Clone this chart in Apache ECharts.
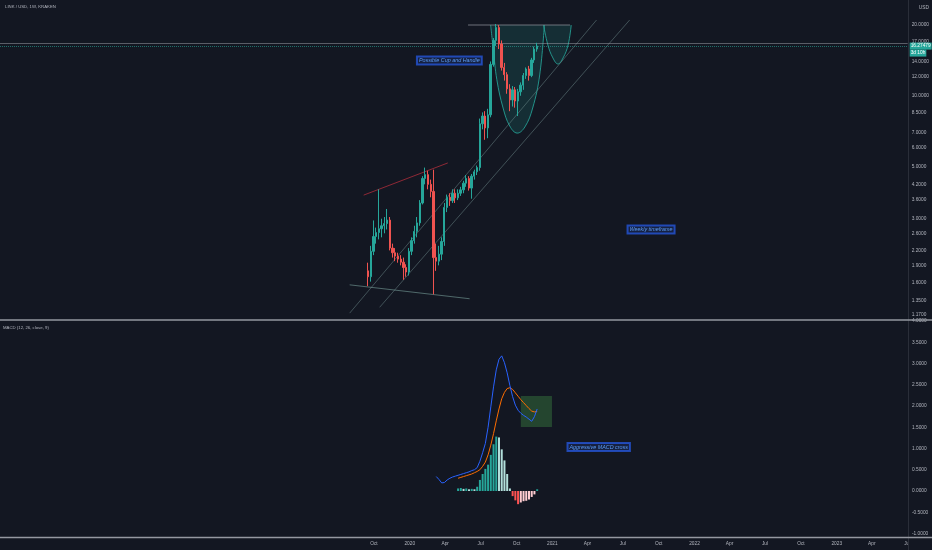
<!DOCTYPE html>
<html><head><meta charset="utf-8">
<script src="https://cdn.jsdelivr.net/npm/echarts@6/dist/echarts.min.js"></script>
<style>html,body{margin:0;padding:0;background:#131722}#c{width:932px;height:550px}</style>
</head><body><div id="c"></div>
<script>
// ---------- data ----------
const axisStart = '2017-02-13';
const axisEnd = '2023-07-03';
const firstCandle = '2019-09-16'; // weekly candles
const candleOpen  = [1.80,1.70,2.18,2.52,2.62,2.72,2.80,2.86,2.96,2.25,2.15,2.08,2.02,1.96,1.86,1.78,2.18,2.42,2.65,2.88,3.50,4.45,4.62,4.20,3.92,2.05,1.98,2.12,2.40,3.35,3.70,3.58,3.85,3.68,3.85,3.98,4.25,4.45,4.05,4.55,4.75,4.95,7.60,8.20,7.30,8.30,13.6,17.2,19.5,16.6,13.2,12.3,10.7,9.6,10.6,9.5,10.4,11.1,12.2,13.0,12.2,14.2,15.8];
const candleHigh  = [1.95,2.30,2.95,2.75,4.00,3.00,3.05,3.30,3.05,2.35,2.25,2.15,2.10,2.05,1.92,2.25,2.50,2.80,3.05,3.60,4.55,4.95,4.80,4.40,4.85,2.35,2.30,2.50,3.50,3.80,3.85,4.00,4.00,4.00,4.10,4.35,4.60,4.55,4.65,4.85,5.05,8.00,8.50,8.60,8.80,14.0,17.6,20.2,20.0,17.2,13.8,12.6,11.2,11.0,10.9,10.7,11.4,12.5,13.2,13.4,14.5,16.2,16.8];
const candleLow   = [1.55,1.62,2.10,2.35,2.45,2.50,2.60,2.70,2.20,2.05,1.98,1.95,1.90,1.65,1.70,1.72,2.10,2.35,2.50,2.80,3.45,4.20,4.00,3.70,1.43,1.80,1.90,2.00,2.30,3.20,3.40,3.50,3.50,3.60,3.75,3.85,4.10,3.95,3.65,4.40,4.60,4.80,7.20,6.50,6.60,8.10,13.3,16.3,15.8,12.8,11.6,10.2,8.6,9.0,8.9,8.2,10.0,10.6,11.8,11.6,12.0,13.8,15.4];
const candleClose = [1.70,2.18,2.52,2.62,2.72,2.80,2.86,2.96,2.25,2.15,2.08,2.02,1.96,1.86,1.78,2.18,2.42,2.65,2.88,3.50,4.45,4.62,4.20,3.92,2.05,1.98,2.12,2.40,3.35,3.70,3.58,3.85,3.68,3.85,3.98,4.25,4.45,4.05,4.55,4.75,4.95,7.60,8.20,7.30,8.30,13.6,17.2,19.5,16.6,13.2,12.3,10.7,9.6,10.6,9.5,10.4,11.1,12.2,13.0,12.2,14.2,15.8,16.27479];
const lastPrice = 16.27479;
const countdown = '3d 10h';
const drawnLevel = 16.77;

const macdStart = 25;   // candle index where the MACD line begins
const macdLine = [0.34,0.27,0.19,0.20,0.26,0.30,0.33,0.35,0.37,0.39,0.41,0.43,0.45,0.48,0.50,0.55,0.70,0.90,1.12,1.50,1.98,2.45,2.85,3.10,3.18,3.02,2.78,2.48,2.22,2.02,1.90,1.83,1.78,1.74,1.69,1.64,1.75,1.93];
const signalStart = 33; // candle index where signal & histogram begin
const signalLine = [0.30,0.32,0.34,0.36,0.38,0.40,0.43,0.46,0.50,0.58,0.68,0.85,1.08,1.35,1.65,1.93,2.17,2.32,2.41,2.43,2.39,2.31,2.23,2.15,2.08,2.01,1.94,1.88,1.86,1.87];
const histogram  = [0.06,0.07,0.05,0.06,0.04,0.05,0.04,0.10,0.26,0.40,0.52,0.62,0.85,1.10,1.28,1.26,0.98,0.72,0.40,0.06,-0.12,-0.22,-0.31,-0.27,-0.24,-0.23,-0.20,-0.14,-0.08,0.04];

const priceTicks = [1.17,1.35,1.6,1.9,2.2,2.6,3,3.6,4.2,5,6,7,8.5,10,12,14,17,20];
const macdTicks = [-1,-0.5,0,0.5,1,1.5,2,2.5,3,3.5,4];
const timeTicks = ['2019-10-01','2020-01-01','2020-04-01','2020-07-01','2020-10-01','2021-01-01','2021-04-01','2021-07-01','2021-10-01','2022-01-01','2022-04-01','2022-07-01','2022-10-01','2023-01-01','2023-04-01','2023-07-01'];
const monthNames = ['Jan','Feb','Mar','Apr','May','Jun','Jul','Aug','Sep','Oct','Nov','Dec'];

// drawings (date, price)
const wedgeUpper = [['2019-09-05',3.78],['2020-04-08',5.18]];
const wedgeLower = [['2019-07-31',1.57],['2020-06-03',1.37]];
const supportA = [['2019-07-31',1.19],['2021-04-25',21.0]];
const supportB = [['2019-10-16',1.26],['2021-07-19',21.0]];
const cupTop = [['2020-05-30',20.0],['2021-02-16',20.0]];
const cupCurve = [['2020-07-27',20.0],['2020-08-03',15.7],['2020-08-12',11.7],['2020-08-28',8.87],['2020-09-14',7.44],['2020-10-03',6.94],['2020-10-23',7.37],['2020-11-12',8.87],['2020-11-30',12.26],['2020-12-12',20.0]];
const handleCurve = [['2020-12-10',20.0],['2020-12-21',16.45],['2021-01-03',14.48],['2021-01-16',13.65],['2021-01-29',14.48],['2021-02-11',16.45],['2021-02-19',20.0]];
const notes = [
  {text:'Possible Cup and Handle', at:['2020-04-12',14.13], pane:0},
  {text:'Weekly timeframe', at:['2021-09-12',2.70], pane:0},
  {text:'Aggressive MACD cross', at:['2021-04-30',1.035], pane:1}
];
const macdBox = [['2020-10-12',2.235],['2020-12-31',1.506]];

// ---------- chart ----------
const DAY = 86400000;
const t = s => Date.parse(s + 'T00:00:00Z');
const FONT = '"Liberation Sans",Roboto,sans-serif';
const TXT = '#b2b5be';
const UP = '#26a69a', DOWN = '#ef5350';
const AX = 4.8; // axis font size

const candleTime = i => t(firstCandle) + i * 7 * DAY;
const candleData = candleClose.map((c, i) => [candleTime(i), candleOpen[i], c, candleLow[i], candleHigh[i]]);
const macdData = macdLine.map((v, i) => [candleTime(macdStart + i), v]);
const signalData = signalLine.map((v, i) => [candleTime(signalStart + i), v]);
const histData = histogram.map((v, i) => {
  const prev = i > 0 ? histogram[i - 1] : 0;
  let color;
  if (v >= 0) color = prev < v ? '#26a69a' : '#b2dfdb';
  else color = prev < v ? '#ffcdd2' : '#ff5252';
  return {value: [candleTime(signalStart + i), v], itemStyle: {color}};
});
const toPts = arr => arr.map(p => [t(p[0]), p[1]]);

function drawing(arr, color, width, type) {
  return {type:'line', xAxisIndex:0, yAxisIndex:0, data: toPts(arr), showSymbol:false, silent:true,
    lineStyle:{color, width: width || 1, type: type || 'solid'}, z: 3, animation:false};
}
function curve(arr) {
  return {type:'custom', xAxisIndex:0, yAxisIndex:0, data:[0], silent:true, z:1,
    renderItem: (params, api) => {
      const pts = arr.map(p => api.coord([t(p[0]), p[1]]));
      return {type:'polyline', shape:{points: pts, smooth: 0.4},
        style:{fill:'rgba(38,166,154,0.16)', stroke:'rgba(38,166,154,0.85)', lineWidth:1}};
    }};
}
const noteLabel = txt => ({show:true, position:'inside', formatter: txt, fontFamily: FONT, fontSize: 5.4,
  fontStyle:'italic', color:'#5b9cf6', backgroundColor:'rgba(41,98,255,0.14)', borderColor:'rgba(41,98,255,0.65)',
  borderWidth:1, padding:[2,2,1,2]});
const notePoints = pane => notes.filter(n => n.pane === pane).map(n => ({
  coord:[t(n.at[0]), n.at[1]], symbol:'rect', symbolSize:1, itemStyle:{color:'rgba(0,0,0,0)'}, label: noteLabel(n.text)}));
const dateLabel = v => { const d = new Date(v); return d.getUTCMonth() === 0 ? String(d.getUTCFullYear()) : monthNames[d.getUTCMonth()]; };

const option = {
  backgroundColor:'#131722',
  animation:false,
  grid:[
    {left:0, right:24, top:0, height:319},
    {left:0, right:24, top:321, height:216}
  ],
  xAxis:[
    {type:'value', gridIndex:0, min:t(axisStart), max:t(axisEnd), axisLabel:{show:false}, axisTick:{show:false}, axisLine:{show:false}, splitLine:{show:false}},
    {type:'value', gridIndex:1, min:t(axisStart), max:t(axisEnd), axisTick:{show:false}, axisLine:{show:false}, splitLine:{show:false},
      axisLabel:{show:true, customValues: timeTicks.map(t), hideOverlap:false, margin:4, fontSize:AX, fontFamily:FONT, color:TXT, formatter: dateLabel}}
  ],
  yAxis:[
    {type:'log', gridIndex:0, position:'right', min:1.1235, max:25.55, axisLine:{show:false}, axisTick:{show:false}, splitLine:{show:false},
      axisLabel:{customValues: priceTicks, formatter: v => Number(v).toFixed(4), fontSize:AX, fontFamily:FONT, color:TXT, margin:4}},
    {type:'value', gridIndex:1, position:'right', min:-1.0824, max:4, axisLine:{show:false}, axisTick:{show:false}, splitLine:{show:false},
      axisLabel:{customValues: macdTicks, formatter: v => Number(v).toFixed(4), fontSize:AX, fontFamily:FONT, color:TXT, margin:4}}
  ],
  graphic:[
    {type:'text', left:5, top:5, style:{text:'LINK / USD, 1W, KRAKEN', fontSize:4.3, fontFamily:FONT, fill:TXT}},
    {type:'text', left:3, top:326, style:{text:'MACD (12, 26, close, 9)', fontSize:4.3, fontFamily:FONT, fill:TXT}},
    {type:'text', right:3, top:5, style:{text:'USD', fontSize:4.8, fontFamily:FONT, fill:TXT}},
    {type:'line', shape:{x1:908.5, y1:0, x2:908.5, y2:550}, style:{stroke:'#2a2e39', lineWidth:1}, z:50},
    {type:'line', shape:{x1:0, y1:320, x2:932, y2:320}, style:{stroke:'#9598a1', lineWidth:1.5}, z:50},
    {type:'line', shape:{x1:0, y1:537.5, x2:932, y2:537.5}, style:{stroke:'#9598a1', lineWidth:1.5}, z:50},
    {type:'rect', shape:{x:909, y:539, width:23, height:11}, style:{fill:'#131722'}, z:60}
  ],
  series:[
    curve(cupCurve),
    curve(handleCurve),
    drawing(cupTop, 'rgba(149,152,161,0.7)'),
    drawing(wedgeUpper, 'rgba(242,54,69,0.55)'),
    drawing(wedgeLower, 'rgba(120,160,155,0.6)'),
    drawing(supportA, 'rgba(120,150,150,0.45)'),
    drawing(supportB, 'rgba(120,150,150,0.45)'),
    {type:'candlestick', xAxisIndex:0, yAxisIndex:0, data:candleData, barWidth:1.8, z:5,
      itemStyle:{color:UP, color0:DOWN, borderColor:UP, borderColor0:DOWN, borderWidth:1},
      markLine:{silent:true, symbol:'none', animation:false, data:[
        {yAxis: drawnLevel, lineStyle:{color:'rgba(149,152,161,0.55)', type:'solid', width:1}, label:{show:false}},
        {yAxis: lastPrice, lineStyle:{color:'rgba(38,166,154,0.6)', type:'dotted', width:1},
          label:{show:true, position:'end', distance:2, formatter:'{e| }\n{a|' + lastPrice.toFixed(5) + '}\n{b|' + countdown + '}',
            rich:{e:{fontSize:AX, lineHeight:7},
                  a:{backgroundColor:UP, color:'#ffffff', fontSize:AX, fontFamily:FONT, padding:[1,1], lineHeight:7},
                  b:{backgroundColor:UP, color:'#ffffff', fontSize:AX, fontFamily:FONT, padding:[1,1], lineHeight:7}}}}
      ]},
      markPoint:{silent:true, animation:false, data: notePoints(0)}
    },
    {type:'bar', xAxisIndex:1, yAxisIndex:1, data:histData, barWidth:2, z:2},
    {type:'line', xAxisIndex:1, yAxisIndex:1, data:macdData, showSymbol:false, lineStyle:{color:'#2962ff', width:1}, z:4,
      markArea:{silent:true, itemStyle:{color:'rgba(76,175,80,0.3)'}, data:[[{coord:[t(macdBox[0][0]), macdBox[0][1]]},{coord:[t(macdBox[1][0]), macdBox[1][1]]}]]},
      markPoint:{silent:true, animation:false, data: notePoints(1)}},
    {type:'line', xAxisIndex:1, yAxisIndex:1, data:signalData, showSymbol:false, lineStyle:{color:'#ff6d00', width:1}, z:3}
  ]
};
const chart = echarts.init(document.getElementById('c'));
chart.setOption(option);
</script></body></html>
